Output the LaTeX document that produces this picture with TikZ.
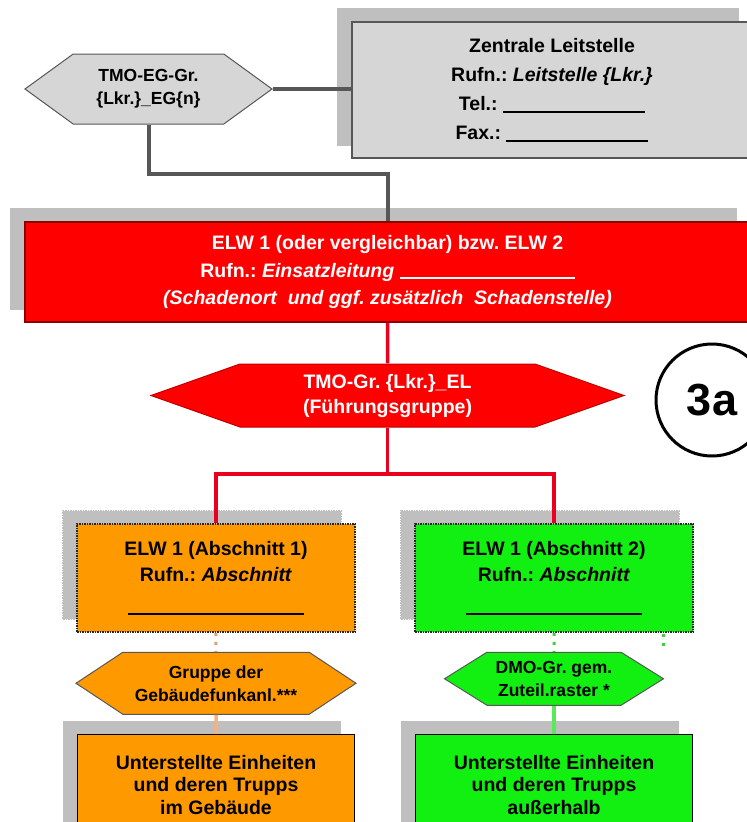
\documentclass[tikz,border=0pt]{standalone}
\usepackage{fontspec}
\setmainfont{Liberation Sans}
\usepackage{tikz}
\usetikzlibrary{shapes.symbols, shadows, positioning}
\definecolor{kastengrau}{HTML}{D6D6D6}
\definecolor{schatten}{HTML}{BFBFBF}
\definecolor{rahmengrau}{HTML}{575757}
\definecolor{elrot}{HTML}{FF0000}
\definecolor{linienrot}{HTML}{E8001C}
\definecolor{abschnorange}{HTML}{FF9900}
\definecolor{abschngruen}{HTML}{12F012}
\definecolor{punktorange}{HTML}{D6A374}
\definecolor{linieorange}{HTML}{F5B27C}
\definecolor{punktgruen}{HTML}{3CD23C}
\definecolor{liniegruen}{HTML}{5CE85C}
\newcommand{\strich}[1]{\rule[-2pt]{#1}{1.6pt}}
\frenchspacing
\tikzset{
    kasten/.style={rectangle, align=center, inner sep=0pt, line width=1.5pt, font=\fontsize{19.5}{26}\selectfont\bfseries, copy shadow={shadow xshift=-14pt, shadow yshift=13pt, fill=schatten, draw=schatten}},
    leitkasten/.style={kasten, draw=rahmengrau, fill=kastengrau, font=\fontsize{19.5}{29}\selectfont\bfseries},
    elkasten/.style={kasten, draw=elrot!55!black, fill=elrot, text=white, font=\fontsize{19.5}{27.5}\selectfont\bfseries},
    abschnitt/.style={kasten, draw=black!85, densely dotted, minimum width=278pt, minimum height=108pt},
    einheiten/.style={kasten, draw=black, minimum width=277pt, minimum height=101pt, font=\fontsize{19.5}{22.5}\selectfont\bfseries},
    gruppe/.style={signal, signal to=west and east, align=center, inner sep=0pt, line width=1pt, draw=rahmengrau, font=\fontsize{17.5}{23}\selectfont\bfseries},
    nummer/.style={circle, draw=black, line width=3pt, fill=white, minimum size=112pt, font=\fontsize{45}{45}\selectfont\bfseries},
    graulinie/.style={line width=4pt, color=rahmengrau},
    rotlinie/.style={line width=3.5pt, color=linienrot},
    punktorange/.style={line width=3pt, color=punktorange, dash pattern=on 3pt off 6pt},
    orangelinie/.style={line width=3.5pt, color=linieorange},
    punktgruen/.style={line width=3pt, color=punktgruen, dash pattern=on 3pt off 6pt},
    gruenlinie/.style={line width=3.5pt, color=liniegruen}
}
\begin{document}
\begin{tikzpicture}[x=1pt, y=-1pt]
    \useasboundingbox (0,0) rectangle (747,822);
    \node [leitkasten, minimum width=400pt, minimum height=136pt] (leitstelle) at (552,90) {Zentrale Leitstelle\\Rufn.: \textit{Leitstelle \{Lkr.\}}\\Tel.: \strich{142pt}\\Fax.: \strich{142pt}};
    \node [gruppe, fill=kastengrau, minimum width=247pt, minimum height=70pt, signal pointer angle=72] (egruppe) at (148.5,89) {TMO-EG-Gr.\\\{Lkr.\}\_EG\{n\}};
    \node [elkasten, minimum width=725pt, minimum height=100pt] (einsatzl) at (387.5,272) {ELW 1 (oder vergleichbar) bzw. ELW 2\\Rufn.: \textit{Einsatzleitung} \strich{175pt}\\\textit{(Schadenort~ und ggf. zusätzlich~ Schadenstelle)}};
    \node [gruppe, fill=elrot, draw=elrot!75!black, text=white, font=\fontsize{19.5}{25}\selectfont\bfseries, minimum width=473pt, minimum height=63pt, signal pointer angle=39] (fuehrung) at (387.5,395.5) {TMO-Gr. \{Lkr.\}\_EL\\(Führungsgruppe)};
    \node [nummer] (nr) at (712,400) {3a};
    \node [abschnitt, fill=abschnorange] (abschn1) at (216,578) {ELW 1 (Abschnitt 1)\\Rufn.: \textit{Abschnitt}\\[6pt]\strich{176pt}};
    \node [abschnitt, fill=abschngruen] (abschn2) at (554,578) {ELW 1 (Abschnitt 2)\\Rufn.: \textit{Abschnitt}\\[6pt]\strich{176pt}};
    \node [gruppe, fill=abschnorange, minimum width=280pt, minimum height=62pt, signal pointer angle=67, below=19pt of abschn1] (gebfunk) {Gruppe der\\Gebäudefunkanl.***};
    \node [gruppe, fill=abschngruen, minimum width=219pt, minimum height=53pt, signal pointer angle=64, below=19pt of abschn2] (dmogr) {DMO-Gr. gem.\\Zuteil.raster *};
    \node [einheiten, fill=abschnorange, below=19pt of gebfunk] (einh1) {Unterstellte Einheiten\\und deren Trupps\\im Gebäude};
    \node [einheiten, fill=abschngruen, below=28pt of dmogr] (einh2) {Unterstellte Einheiten\\und deren Trupps\\außerhalb};
    \coordinate (knick) at (387.5,174);
    \coordinate (verteiler) at (387.5,474);
    \coordinate (restA) at (663,634);
    \coordinate (restB) at (663,652);

    \draw [graulinie] (egruppe.east) -- (egruppe.east -| leitstelle.west);
    \draw [graulinie] (egruppe.south) |- (knick) -- (einsatzl.north);
    \draw [rotlinie] (einsatzl) -- (fuehrung);
    \draw [rotlinie] (fuehrung.south) -- (verteiler) -| (abschn1.north);
    \draw [rotlinie] (verteiler) -| (abschn2.north);
    \draw [punktorange] (abschn1) -- (gebfunk);
    \draw [orangelinie] (gebfunk) -- (einh1);
    \draw [punktgruen] (abschn2) -- (dmogr);
    \draw [punktgruen] (restA) -- (restB);
    \draw [gruenlinie] (dmogr) -- (einh2);
\end{tikzpicture}
\end{document}
